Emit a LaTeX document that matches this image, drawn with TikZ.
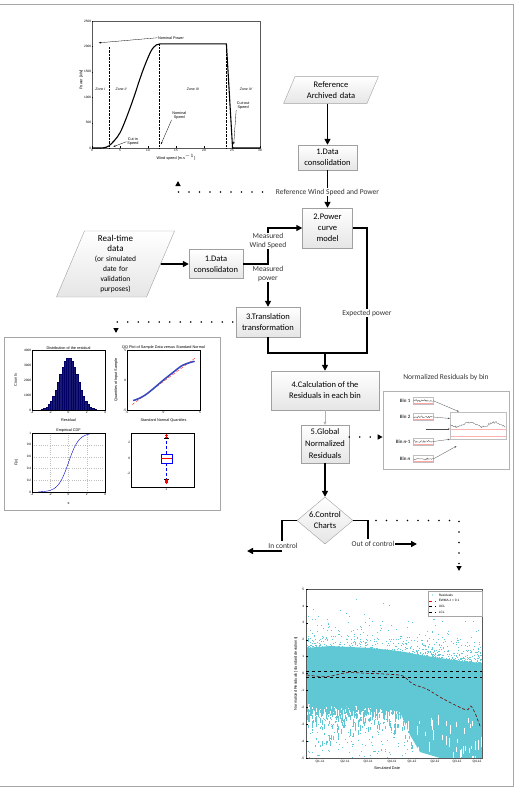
\documentclass[tikz,border=0pt]{standalone}
\usepackage{fontspec}
\setmainfont{Carlito}
\newfontfamily\plotfont{Liberation Sans}
\usetikzlibrary{arrows.meta,shapes.geometric}

\definecolor{boxline}{RGB}{160,160,160}
\definecolor{rescyan}{RGB}{95,200,212}
\definecolor{histnavy}{RGB}{25,25,112}
\definecolor{qqblue}{RGB}{55,75,190}

\newcommand\noisyline[4]{% start x, level y, width, amplitude
  \draw[gray!60!black, line width=0.25pt] (#1,#2)
    \foreach \k in {1,...,24} { -- ({#1+#3*\k/24},{#2+#4*rand}) };
}

\tikzset{
  procbox/.style={draw=boxline, top color=white, bottom color=gray!20, align=center,
    inner sep=1pt, font=\fontsize{8.5}{11}\selectfont},
  databox/.style={trapezium, trapezium left angle=67, trapezium right angle=113,
    draw=boxline, top color=white, bottom color=gray!20, align=center, inner sep=1pt},
  flow/.style={line width=1.6pt, -{Triangle[length=6pt,width=6pt]}},
  flowline/.style={line width=1.6pt},
  dotflow/.style={line width=1.8pt, line cap=round, dash pattern=on 0pt off 10.5pt,
    -{Triangle[length=5pt,width=5pt]}},
  lbl/.style={fill=white, inner sep=0.6pt, align=center, text=black!80,
    font=\fontsize{7.5}{9}\selectfont},
  plotlbl/.style={font=\plotfont\fontsize{3.8}{4.2}\selectfont, inner sep=0.6pt},
  ticklbl/.style={font=\plotfont\fontsize{3.2}{3.6}\selectfont, inner sep=0.6pt},
  annarrow/.style={line width=0.3pt, -{Stealth[length=2.5pt,width=1.6pt]}},
  binplot/.style={draw=gray!50, fill=white, minimum width=20pt, minimum height=7pt, inner sep=0pt},
  binlbl/.style={font=\bfseries\fontsize{5}{6}\selectfont, text=black!75, inner sep=0.5pt, anchor=east},
  binarrow/.style={gray!60!black, line width=0.3pt, -{Stealth[length=2pt,width=1.5pt]}},
}

\begin{document}
\begin{tikzpicture}[x=1pt,y=-1pt]
\useasboundingbox (0,0) rectangle (519,789);
% outer frame
\draw[gray!70, line width=1pt] (0,4.5) -- (513,4.5) -- (513,786) -- (0,786);

% power curve figure
\begin{scope}[shift={(92,148)}, x=5.6pt, y=0.0508pt]
  \draw[gray!70!black, line width=0.3pt] (0,0) rectangle (30,2500);
  \foreach \v in {0,5,...,30} {
    \draw[line width=0.2pt] (\v,0) -- (\v,40);
    \node[ticklbl, below] at (\v,0) {\v};
  }
  \foreach \p in {0,500,...,2500} {
    \draw[line width=0.2pt] (0,\p) -- (0.2,\p);
    \node[ticklbl, left] at (0,\p) {\p};
  }
  \node[plotlbl, below=5pt] at (15,0) {Wind speed [m.s$^{-1}$]};
  \node[plotlbl, rotate=90] at (-1.9,1340) {Power [kW]};
  \draw[densely dotted, line width=0.4pt] (3,0) -- (3,2010) (12,0) -- (12,2050) (24,0) -- (24,2050);
  \draw[line width=1.1pt] (0,0) -- (1.5,0)
    plot[smooth] coordinates {(1.5,0) (3,40) (5,300) (7,850) (9,1500) (10.5,1900) (11.5,2030) (12.5,2050)}
    -- (24,2050) -- (25.1,0) -- (30,0);
  \node[plotlbl, font=\plotfont\itshape\fontsize{3.5}{4}\selectfont] at (1.5,1150) {Zone I};
  \node[plotlbl, font=\plotfont\itshape\fontsize{3.5}{4}\selectfont] at (5.2,1150) {Zone II};
  \node[plotlbl, font=\plotfont\itshape\fontsize{3.5}{4}\selectfont] at (18,1150) {Zone III};
  \node[plotlbl, font=\plotfont\itshape\fontsize{3.5}{4}\selectfont] at (27.5,1150) {Zone IV};
  \node[plotlbl] (nompow) at (14.1,2170) {Nominal Power};
  \draw[annarrow] (nompow.west) -- (1.2,2070);
  \node[plotlbl, align=center] (cutin) at (7.3,125) {Cut-in\\Speed};
  \draw[annarrow] (cutin.west) -- (3.8,25);
  \node[plotlbl, align=center] (nomspd) at (15.6,645) {Nominal\\Speed};
  \draw[annarrow] (nomspd.south west) -- (12.3,70);
  \node[plotlbl, align=center] (cutout) at (27,835) {Cut-out\\Speed};
  \draw[annarrow] (cutout.south west) -- (25.3,70);
\end{scope}

% reference branch
\node[databox, text width=70pt, inner ysep=5pt, font=\fontsize{8.5}{11}\selectfont] (refdata) at (331,90) {Reference\\Archived data};
\node[procbox, minimum width=59pt, minimum height=25pt] (cons1) at (327.5,157.5) {1.Data\\consolidation};
\node[procbox, minimum width=50pt, minimum height=40pt] (pcm) at (327.5,228) {2.Power\\curve\\model};
\draw[flow] (cons1 |- refdata.south) -- (cons1);
\draw[flow] (cons1) -- (pcm) node[lbl, pos=0.58] (refws) {Reference Wind Speed and Power};
\draw[dotflow] ([xshift=-12pt]refws.west) -| (178,181);

% real-time branch
\node[databox, text width=54pt, minimum height=66pt, font=\fontsize{7.5}{10}\selectfont] (rtdata) at (115.5,264)
  {{\fontsize{9}{11}\selectfont Real-time}\\{\fontsize{9}{11}\selectfont data}\\(or simulated\\date for\\validation\\purposes)};
\node[procbox, minimum width=54pt, minimum height=29pt] (cons2) at (216,264) {1.Data\\consolidaton};
\node[procbox, minimum width=64pt, minimum height=30pt] (trans) at (268,322) {3.Translation\\transformation};
\coordinate (mws) at (268,264);
\draw[flow] (rtdata) -- (cons2);
\draw[flow] (cons2) -- (mws) |- (pcm);
\draw[flow] (mws) -- (trans);
\node[lbl] at (268,241) {Measured\\Wind Speed};
\node[lbl] at (268,273.5) {Measured\\power};

% residual branch
\node[procbox, minimum width=108pt, minimum height=39pt] (calc) at (325,390.5) {4.Calculation of the\\Residuals in each bin};
\node[procbox, minimum width=48pt, minimum height=38pt, font=\fontsize{8.5}{12}\selectfont] (glob) at (325,444) {5.Global\\Normalized\\Residuals};
\node[diamond, draw=boxline, top color=white, bottom color=gray!20, minimum width=56pt, minimum height=47pt, inner sep=0pt,
  label={[align=center, font=\fontsize{8.5}{11}\selectfont]center:6.Control\\Charts}] (ctrl) at (325,520.5) {};
\coordinate (mrg) at (325,353);
\coordinate (epc) at (367,353);
\draw[flowline] (pcm) -| (epc) -- (mrg);
\draw[flowline] (trans) |- (mrg);
\draw[flow] (mrg) -- (calc);
\node[lbl] at (367,313) {Expected power};
\draw[gray!60, line width=0.6pt, -{Triangle[length=3pt,width=3pt]}] (calc) -- (glob);
\draw[flow] (glob) -- (ctrl);

% control chart outcomes
\coordinate (inc) at (282,541);
\coordinate (outc) at (368,539);
\draw[flowline] (ctrl) -| (inc);
\draw[flowline] (ctrl) -| (outc);
\node[lbl, fill=none] (inctl) at (283,546) {In control};
\coordinate (inbeg) at (282,551);
\coordinate (inend) at (247,551);
\draw[flow] (inbeg) -- (inend);
\node[lbl, fill=none] (outctl) at (373,544) {Out of control};
\coordinate (outend) at (417,544);
\draw[flow] (outctl.east) -- (outend);
\coordinate (dots0) at (376,520.5);
\coordinate (ewmatop) at (459,571);
\draw[dotflow] (dots0) -| (ewmatop);

% residual distribution figure
\node[draw=gray!70, line width=0.8pt, minimum width=216pt, minimum height=173pt, inner sep=0pt] (distbox) at (112,423.5) {};
\draw[dotflow] ([xshift=-3pt]trans.west) -| (116,333);
\begin{scope}[shift={(68.5,410)}, x=9.125pt, y=0.015pt]
  \foreach \b in {-3.5,-3.25,...,3.3} {
    \pgfmathsetmacro\h{3500*exp(-0.5*(\b+0.125)*(\b+0.125))}
    \filldraw[fill=histnavy, draw=blue!40!black, line width=0.1pt] (\b,0) rectangle ({\b+0.25},\h);
  }
  \draw[line width=0.3pt] (-4,0) rectangle (4,4000);
  \foreach \v in {-4,-2,0,2,4} \node[ticklbl, below] at (\v,0) {\v};
  \foreach \c in {0,1000,...,4000} \node[ticklbl, left] at (-4,\c) {\c};
  \node[plotlbl, above] at (0,4000) {Distribution of the residual};
  \node[plotlbl] at (0,-680) {Residual};
  \node[plotlbl, rotate=90] at (-5.8,2000) {Counts};
\end{scope}
\begin{scope}[shift={(163.5,380)}, x=7.3pt, y=6pt]
  \draw[line width=0.3pt] (-5,-5) rectangle (5,5);
  \draw[red, densely dashed, line width=0.3pt] (-4.3,-4.1) -- (4.5,3.8);
  \draw[qqblue, line width=1.6pt, line cap=round] plot[smooth] coordinates {(-4.1,-3.4) (-3.4,-3.1) (-2.5,-2.5) (-1.5,-1.55) (0,0) (1.5,1.45) (2.4,2.3) (3,2.65) (3.6,2.9) (4.2,3.1)};
  \foreach \v in {-5,0,5} {
    \node[ticklbl, below] at (\v,-5) {\v};
    \node[ticklbl, left] at (-5,\v) {\v};
  }
  \node[plotlbl, above] at (0,5) {QQ Plot of Sample Data versus Standard Normal};
  \node[plotlbl] at (0,-6.7) {Standard Normal Quantiles};
  \node[plotlbl, rotate=90] at (-6.5,0) {Quantiles of Input Sample};
\end{scope}
\begin{scope}[shift={(68.5,492)}, x=9.125pt, y=59pt]
  \draw[gray!50, dotted, line width=0.2pt] (-2,0) -- (-2,1) (0,0) -- (0,1) (2,0) -- (2,1);
  \foreach \g in {0.2,0.4,0.6,0.8} \draw[gray!50, dotted, line width=0.2pt] (-4,\g) -- (4,\g);
  \draw[line width=0.3pt] (-4,0) rectangle (4,1);
  \draw[blue!80!black, line width=0.4pt] plot[domain=-3.3:2.3, samples=40] (\x,{1/(1+exp(-1.75*\x))});
  \foreach \g in {0,0.2,0.4,0.6,0.8,1} \node[ticklbl, left] at (-4,\g) {\g};
  \foreach \v in {-4,-2,0,2,4} \node[ticklbl, below] at (\v,0) {\v};
  \node[plotlbl, above] at (0,1) {Empirical CDF};
  \node[plotlbl] at (0,-0.19) {x};
  \node[plotlbl, rotate=90] at (-5.7,0.5) {F(x)};
\end{scope}
\begin{scope}[shift={(166.5,458)}, x=1pt, y=7.7pt]
  \draw[line width=0.3pt] (-35.5,-3.77) rectangle (27.5,3.25);
  \foreach \v in {-2,0,2} \node[ticklbl, left] at (-35.5,\v) {\v};
  \node[ticklbl, below] at (0,-3.77) {1};
  \draw[blue, densely dashed, line width=0.3pt] (0,0.55) -- (0,2.6) (0,-0.65) -- (0,-2.7);
  \draw[line width=0.3pt] (-2.5,2.6) -- (2.5,2.6) (-2.5,-2.7) -- (2.5,-2.7);
  \draw[blue, line width=0.4pt, fill=white] (-5.5,-0.65) rectangle (5.5,0.55);
  \draw[red, line width=0.4pt] (-5.5,0) -- (5.5,0);
  \foreach \o in {2.75,2.9,3.0,-2.85,-3.0,-3.1,-3.2}
    \draw[red, line width=0.4pt] (-1.3,\o) -- (1.3,\o) (0,{\o-0.17}) -- (0,{\o+0.17});
\end{scope}

% normalized residuals by bin
\node[draw=gray!60, line width=0.7pt, minimum width=126pt, minimum height=78pt] (resbox) at (446,430) {};
\node[lbl, fill=none] at (446,377) {Normalized Residuals by bin};
\draw[dotflow] (glob.east |- 0,437) -- (resbox.west |- 0,437);
\node[binplot] (bin1) at (423,400.7) {};
\node[binplot] (bin2) at (423,417) {};
\node[binplot] (binm) at (423,441.5) {};
\node[binplot] (binn) at (423,459) {};
\node[binplot, minimum width=56pt, minimum height=27.5pt] (allbins) at (478,425.5) {};
\node[binlbl] at (411,401) {Bin 1};
\node[binlbl] at (411,417) {Bin 2};
\node[binlbl] at (411,441.5) {Bin \textit{n}-1};
\node[binlbl] at (411,459) {Bin \textit{n}};
\pgfmathsetseed{5}
\foreach \yb in {400.7,417,441.5,459} {
  \draw[red!35, line width=0.2pt] (413.5,\yb+2.2) -- (432.5,\yb+2.2);
  \noisyline{413.5}{\yb}{19}{1.1}
}
\draw[red!30, line width=0.2pt] (450.5,429.5) -- (505.5,429.5) (450.5,436.5) -- (505.5,436.5);
\draw[gray!60!black, line width=0.25pt] plot[domain=450.5:505.5, samples=60] (\x,{424.5+2.2*sin(14*(\x-450))+1*rand});
\coordinate (binx) at (426,429);
\draw[binarrow] (bin1.east) -- ([xshift=9pt]allbins.north west);
\draw[binarrow] (bin2.east) -- ([yshift=7pt]allbins.west);
\draw[binarrow] (binx) -- (allbins.west |- binx);
\draw[binarrow] (binm.east) -- ([yshift=-13.8pt]allbins.west);
\draw[binarrow] (binn.east) -- ([xshift=6.7pt,yshift=-6.7pt]allbins.south west);

% EWMA control chart
\begin{scope}
  \clip (306,589) rectangle (482,758);
  \fill[rescyan] (306,648) -- (330,646) -- (350,647) -- (370,648) -- (390,650) -- (405,652) -- (420,655)
    -- (440,658) -- (460,661) -- (482,663) -- (482,758) -- (440,758) -- (420,752) -- (410,735)
    -- (400,712) -- (380,708) -- (360,706) -- (340,707) -- (320,705) -- (306,704) -- cycle;
  \pgfmathsetseed{11}
  \foreach \i in {1,...,900}{
    \pgfmathsetmacro\px{306+176*rnd}
    \pgfmathsetmacro\py{648+15*(\px-306)/176-58*rnd*rnd*rnd}
    \fill[rescyan] (\px,\py) rectangle ++(0.9,0.9);
  }
  \foreach \i in {1,...,800}{
    \pgfmathsetmacro\px{306+112*rnd}
    \pgfmathsetmacro\py{703+55*rnd*rnd*rnd}
    \draw[rescyan, line width=0.7pt] (\px,\py) -- ++(0,{1+5*rnd});
  }
  \foreach \i in {1,...,120}{
    \pgfmathsetmacro\px{306+112*rnd}
    \pgfmathsetmacro\py{720+38*rnd}
    \fill[rescyan] (\px,\py) rectangle ++(0.9,0.9);
  }
  \foreach \i in {1,...,45}{
    \pgfmathsetmacro\px{405+77*rnd}
    \pgfmathsetmacro\py{715+43*rnd}
    \draw[white, line width=0.35pt] (\px,\py) -- ++(0,{3+8*rnd});
  }
\end{scope}
\draw[gray!70!black, line width=0.4pt] (306,589) rectangle (482,758);
\foreach \v in {-5,...,5} {
  \draw[line width=0.3pt] (306,{673.5-16.9*\v}) -- ++(2,0);
  \node[ticklbl, anchor=east] at (305,{673.5-16.9*\v}) {\v};
}
\foreach \q/\xq in {Q1-11/320,Q2-11/345,Q3-11/368,Q4-11/392,Q1-12/412,Q2-12/435,Q3-12/457,Q4-12/477}
  \node[ticklbl, anchor=north] at (\xq,759) {\q};
\node[plotlbl] at (387,768) {Simulated Date};
\node[plotlbl, rotate=90] at (296,673.5) {Normalized Residuals [standard deviations]};
\draw[dashed, line width=0.5pt] (306,671) -- (482,671) (306,677) -- (482,677);
\draw[red!45!black, densely dashed, line width=0.6pt] plot[smooth] coordinates {(306.7,675) (326.7,676.7) (346.7,672.7) (366.7,673.3) (390,674.3) (403,676) (413,684) (426.7,689) (440,697) (453,704) (466.7,710) (470.7,706) (475,713) (480.7,728)};
\node[draw=gray!70, fill=white, line width=0.3pt, minimum width=54pt, minimum height=25pt, inner sep=0pt] (legend) at (455,603.5) {};
\fill[rescyan] (432.5,595) circle (0.6);
\node[ticklbl, anchor=west] at (438,595) {Residuals};
\draw[red, dashed, line width=0.4pt] (429,600.7) -- (436,600.7);
\node[ticklbl, anchor=west] at (438,600.7) {EWMA λ = 0.1};
\draw[dashed, line width=0.4pt] (429,606.5) -- (436,606.5);
\node[ticklbl, anchor=west] at (438,606.5) {UCL};
\draw[dashed, line width=0.4pt] (429,612.3) -- (436,612.3);
\node[ticklbl, anchor=west] at (438,612.3) {LCL};
\end{tikzpicture}
\end{document}
